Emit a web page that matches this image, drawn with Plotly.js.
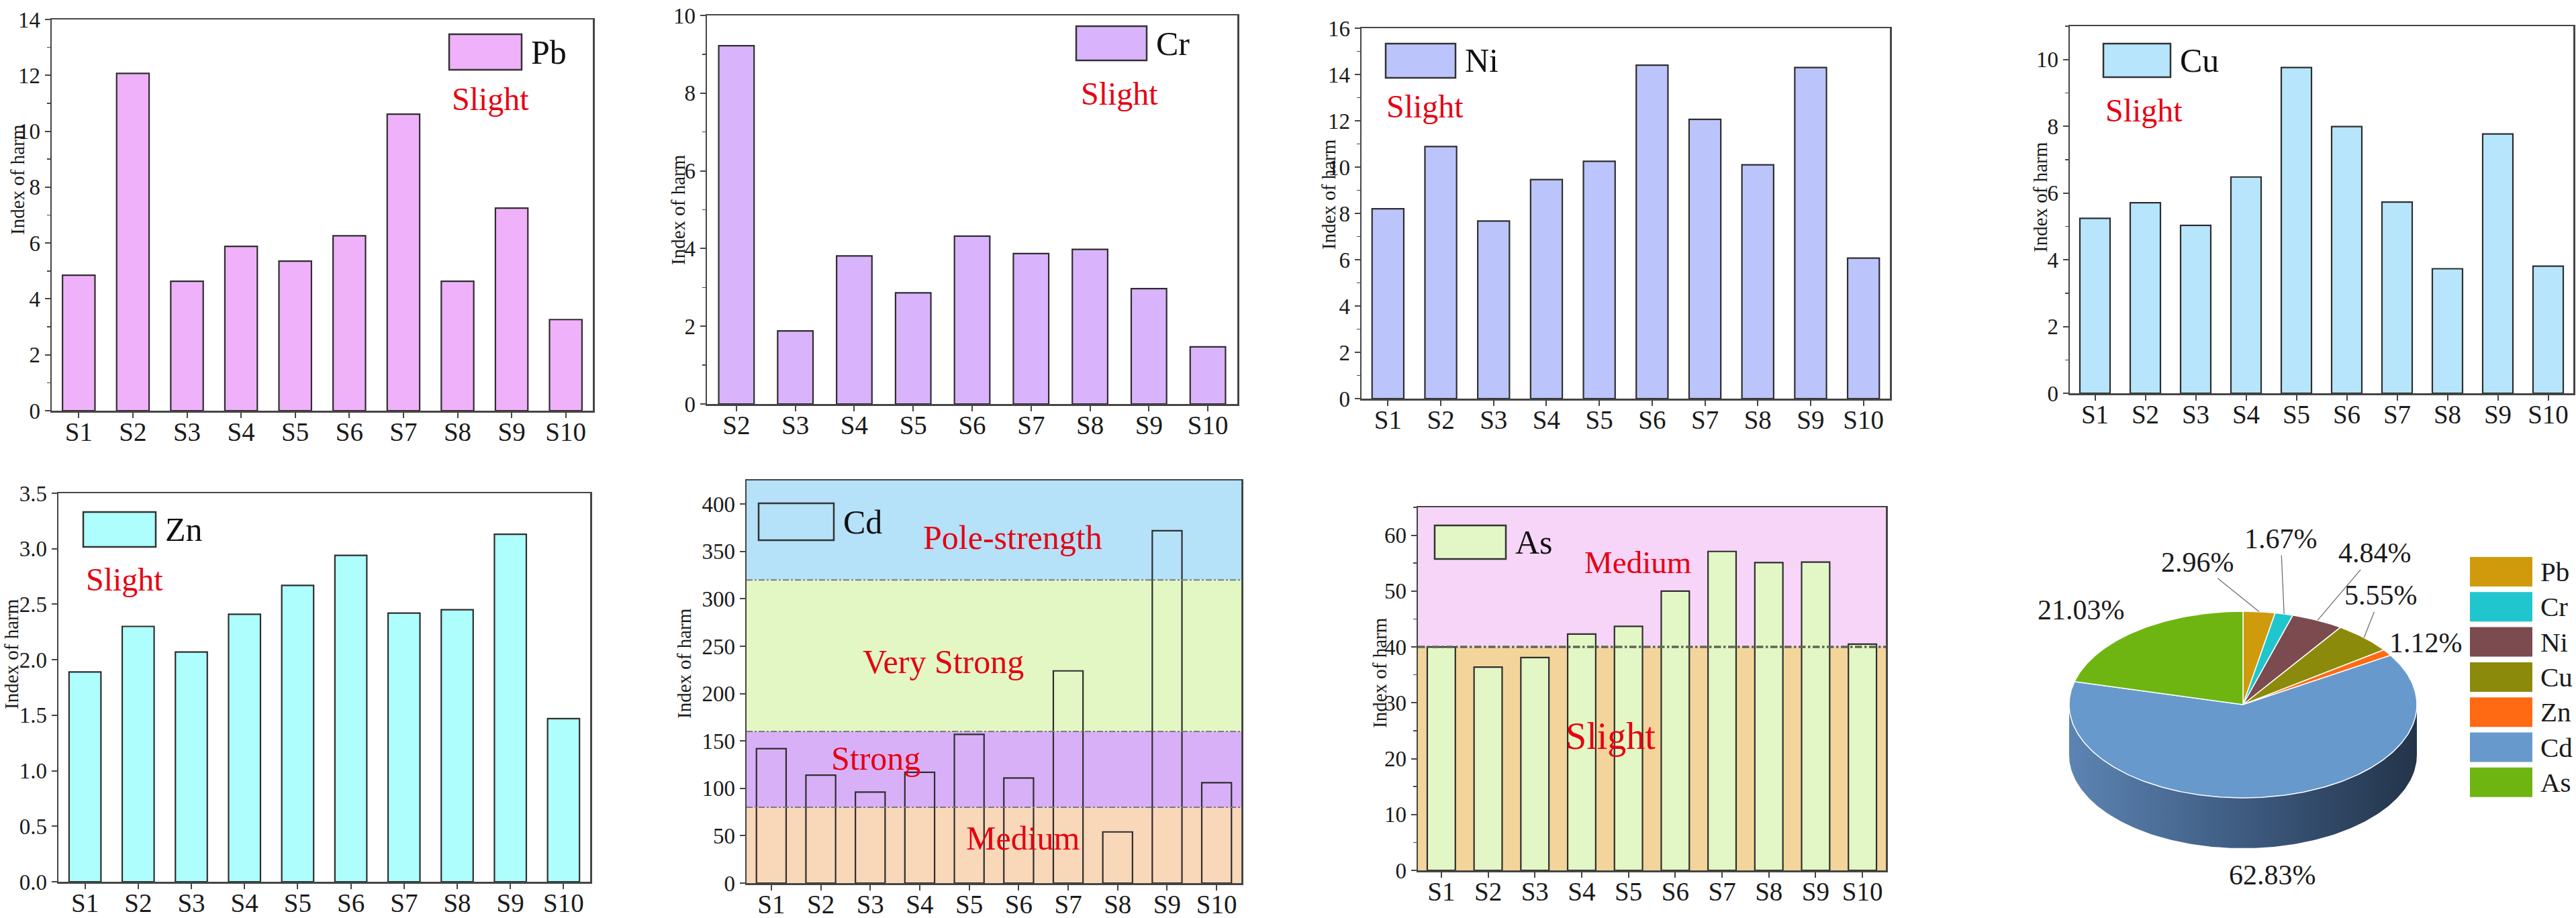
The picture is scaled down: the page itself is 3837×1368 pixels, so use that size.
<!DOCTYPE html>
<html>
<head>
<meta charset="utf-8">
<script src="https://cdn.plot.ly/plotly-3.0.1.min.js"></script>
<style>
  html, body { margin: 0; padding: 0; background: #fff; overflow: hidden; }
  #chart { width: 3837px; height: 1368px; }
</style>
</head>
<body>
<div id="chart"></div>
<script>
// ---- data ----
const sites = ['S1', 'S2', 'S3', 'S4', 'S5', 'S6', 'S7', 'S8', 'S9', 'S10'];
const crSites = ['S2', 'S3', 'S4', 'S5', 'S6', 'S7', 'S8', 'S9', 'S10'];

const pbIndex = [4.85, 12.07, 4.63, 5.88, 5.35, 6.26, 10.61, 4.63, 7.25, 3.26];
const crIndex = [9.22, 1.88, 3.81, 2.86, 4.32, 3.87, 3.98, 2.97, 1.47];
const niIndex = [8.20, 10.89, 7.67, 9.46, 10.25, 14.40, 12.06, 10.10, 14.30, 6.07];
const cuIndex = [5.24, 5.71, 5.03, 6.48, 9.76, 7.99, 5.73, 3.73, 7.77, 3.81];
const znIndex = [1.89, 2.30, 2.07, 2.41, 2.67, 2.94, 2.42, 2.45, 3.13, 1.47];
const cdIndex = [142, 114, 96, 117, 157, 111, 224, 54, 372, 106];
const asIndex = [40.0, 36.4, 38.1, 42.3, 43.7, 50.0, 57.1, 55.1, 55.2, 40.5];

const cdLevels = [0, 80, 160, 320, 425];
const cdLevelNames = ['Medium', 'Strong', 'Very Strong', 'Pole-strength'];
const asLevels = [0, 40, 65];
const asLevelNames = ['Slight', 'Medium'];

const pieLabels = ['Pb', 'Cr', 'Ni', 'Cu', 'Zn', 'Cd', 'As'];
const pieShares = [2.96, 1.67, 4.84, 5.55, 1.12, 62.83, 21.03];

// ---- page geometry and styles ----
const W = 3837, H = 1368;
const FONT = 'Liberation Serif, Times New Roman, serif';
const AXIS_COLOR = '#454545';
const RED = '#e60012';
const px = x => x / W;
const py = y => 1 - y / H;

const panels = [
  { el: 'Pb', cats: sites, vals: pbIndex, fill: '#efb1f9', box: [77, 29, 883, 612], yr: [0, 14], dtick: 2, minor: 1,
    key: [669, 51, 777, 104], ytitle: [26, 268], notes: [{ text: 'Slight', x: 730, y: 148, size: 48 }] },
  { el: 'Cr', cats: crSites, vals: crIndex, fill: '#d9b3fc', box: [1053, 23, 1843, 602], yr: [0, 10], dtick: 2, minor: 1,
    key: [1603, 39, 1708, 90], ytitle: [1010, 312], notes: [{ text: 'Slight', x: 1667, y: 139, size: 48 }] },
  { el: 'Ni', cats: sites, vals: niIndex, fill: '#bbc5fb', box: [2028, 42, 2815, 594], yr: [0, 16], dtick: 2, minor: 1,
    key: [2064, 65, 2168, 116], ytitle: [1979, 289], notes: [{ text: 'Slight', x: 2122, y: 159, size: 48 }] },
  { el: 'Cu', cats: sites, vals: cuIndex, fill: '#b7e6fc', box: [3083, 39, 3833, 586], yr: [0, 11], dtick: 2, minor: 1,
    key: [3133, 65, 3233, 115], ytitle: [3039, 294], notes: [{ text: 'Slight', x: 3193, y: 165, size: 48 }] },
  { el: 'Zn', cats: sites, vals: znIndex, fill: '#adfefd', box: [87, 735, 879, 1314], yr: [0, 3.5], dtick: 0.5, fmt: '.1f',
    key: [124, 763, 232, 815], ytitle: [17, 975], notes: [{ text: 'Slight', x: 185, y: 863, size: 48 }] },
  { el: 'Cd', cats: sites, vals: cdIndex, fill: 'rgba(0,0,0,0)', keyFill: 'rgba(0,0,0,0)', box: [1112, 716, 1849, 1316],
    yr: [0, 425], dtick: 50, key: [1130, 750, 1242, 805], ytitle: [1019, 988],
    bands: { levels: cdLevels, colors: ['#f9d7b9', '#d8b0f8', '#e3f7c4', '#b5e1f9'], line: '#7b7b7b', lw: 2 },
    notes: [
      { text: cdLevelNames[3], x: 1508, y: 801, size: 50 },
      { text: cdLevelNames[2], x: 1405, y: 986, size: 50 },
      { text: cdLevelNames[1], x: 1304, y: 1130, size: 50 },
      { text: cdLevelNames[0], x: 1524, y: 1249, size: 50 }
    ] },
  { el: 'As', cats: sites, vals: asIndex, fill: '#e2f7c5', box: [2112, 756, 2809, 1297], yr: [0, 65], dtick: 10, minor: 5,
    key: [2137, 783, 2243, 833], ytitle: [2055, 1003],
    bands: { levels: asLevels, colors: ['#f3d59c', '#f6d5f8'], line: '#5f6650', lw: 3.5 },
    notes: [
      { text: asLevelNames[1], x: 2439, y: 838, size: 47 },
      { text: asLevelNames[0], x: 2399, y: 1097, size: 56 }
    ] }
];

const pieColors = ['#cf9b0c', '#20c6cd', '#7b4b4f', '#8c8a0a', '#ff6a12', '#6799cc', '#6eb512'];
const PIE = { cx: 3341, cy: 1050, a: 259, b: 139, depth: 75 };
// label offsets from the slice edge (px, +down) and whether a leader line is drawn
const pieLabelPos = [[-92, -74, true], [-5, -112, true], [85, -100, true], [25, -63, true],
                     [58, -14, false], [4, 117, false], [-82, -31, false]];
const pieKey = { x0: 3679, x1: 3772, y0: 830, step: 52.3, h: 44, size: 41 };

// ---- build figure ----
const traces = [];
const shapes = [];
const annotations = [];
const layout = {
  width: W, height: H,
  margin: { l: 0, r: 0, t: 0, b: 0 },
  paper_bgcolor: '#ffffff',
  plot_bgcolor: 'rgba(0,0,0,0)',
  showlegend: false,
  bargap: 0.4,
  font: { family: FONT, color: '#1a1a1a' }
};

panels.forEach((p, i) => {
  const n = i + 1;
  const xa = 'x' + n, ya = 'y' + n;
  const [l, t, r, b] = p.box;

  traces.push({
    type: 'bar', x: p.cats, y: p.vals, xaxis: xa, yaxis: ya,
    marker: { color: p.fill, line: { color: '#2e2e2e', width: 2.2 } },
    hoverinfo: 'skip'
  });

  layout['xaxis' + n] = {
    domain: [px(l), px(r)], anchor: ya, type: 'category',
    range: [-0.5, p.cats.length - 0.5],
    showline: true, mirror: true, linecolor: AXIS_COLOR, linewidth: 2.5,
    ticks: 'outside', ticklen: 8, tickwidth: 2, tickcolor: AXIS_COLOR,
    ticklabelstandoff: -12,
    tickfont: { family: FONT, size: 39, color: '#1a1a1a' },
    showgrid: false, zeroline: false, fixedrange: true
  };
  const yaxis = {
    domain: [py(b), py(t)], anchor: xa,
    range: p.yr, dtick: p.dtick, tick0: 0,
    showline: true, mirror: true, linecolor: AXIS_COLOR, linewidth: 2.5,
    ticks: 'outside', ticklen: 8, tickwidth: 2, tickcolor: AXIS_COLOR,
    tickfont: { family: FONT, size: 33, color: '#1a1a1a' },
    showgrid: false, zeroline: false, fixedrange: true
  };
  if (p.fmt) yaxis.tickformat = p.fmt;
  if (p.minor) yaxis.minor = { dtick: p.minor, ticks: 'outside', ticklen: 5, tickwidth: 1.5, tickcolor: AXIS_COLOR, showgrid: false };
  layout['yaxis' + n] = yaxis;

  // hazard bands behind the bars
  if (p.bands) {
    const lv = p.bands.levels;
    for (let k = 0; k < lv.length - 1; k++) {
      shapes.push({
        type: 'rect', xref: xa + ' domain', yref: ya, x0: 0, x1: 1, y0: lv[k], y1: lv[k + 1],
        fillcolor: p.bands.colors[k], line: { width: 0 }, layer: 'below'
      });
    }
    for (let k = 1; k < lv.length - 1; k++) {
      shapes.push({
        type: 'line', xref: xa + ' domain', yref: ya, x0: 0, x1: 1, y0: lv[k], y1: lv[k],
        line: { color: p.bands.line, width: p.bands.lw, dash: 'dashdot' }, layer: 'above'
      });
    }
  }

  // legend key box + element name
  const [k0, k1, k2, k3] = p.key;
  shapes.push({
    type: 'rect', xref: 'paper', yref: 'paper',
    x0: px(k0), x1: px(k2), y0: py(k3), y1: py(k1),
    fillcolor: p.keyFill || p.fill, line: { color: '#333333', width: 2.5 }
  });
  annotations.push({
    text: p.el, xref: 'paper', yref: 'paper', x: px(k2 + 12), y: py((k1 + k3) / 2),
    xanchor: 'left', yanchor: 'middle', showarrow: false,
    font: { family: FONT, size: 50, color: '#111' }
  });

  // y title
  annotations.push({
    text: 'Index of harm', xref: 'paper', yref: 'paper', x: px(p.ytitle[0]), y: py(p.ytitle[1]),
    xanchor: 'center', yanchor: 'middle', textangle: -90, showarrow: false,
    font: { family: FONT, size: 29, color: '#1a1a1a' }
  });

  // red grade labels
  p.notes.forEach(nt => {
    annotations.push({
      text: nt.text, xref: 'paper', yref: 'paper', x: px(nt.x), y: py(nt.y),
      xanchor: 'center', yanchor: 'middle', showarrow: false,
      font: { family: FONT, size: nt.size, color: RED }
    });
  });
});

// ---- pseudo 3D pie on a hidden pixel-scaled axis ----
const pn = panels.length + 1;
const pxa = 'x' + pn, pya = 'y' + pn;
layout['xaxis' + pn] = { domain: [px(2877), 1], range: [2877, W], visible: false, fixedrange: true, anchor: pya };
layout['yaxis' + pn] = { domain: [0, py(684)], range: [H, 684], visible: false, fixedrange: true, anchor: pxa };

const rad = d => d * Math.PI / 180;
const rimPoint = th => [PIE.cx + PIE.a * Math.sin(th), PIE.cy - PIE.b * Math.cos(th)];

// front wall of the disc
{
  const xs = [], ys = [];
  for (let d = 90; d <= 270; d += 1) { const [x, y] = rimPoint(rad(d)); xs.push(x); ys.push(y); }
  for (let d = 270; d >= 90; d -= 1) { const [x, y] = rimPoint(rad(d)); xs.push(x); ys.push(y + PIE.depth); }
  traces.push({
    type: 'scatter', mode: 'lines', x: xs, y: ys, xaxis: pxa, yaxis: pya,
    fill: 'toself', line: { width: 0 },
    fillgradient: { type: 'horizontal', colorscale: [[0, '#5c84b3'], [0.55, '#3b577b'], [1, '#23344a']] },
    hoverinfo: 'skip'
  });
}

// top face slices
const total = pieShares.reduce((s, v) => s + v, 0);
let acc = 0;
pieShares.forEach((v, i) => {
  const a0 = acc / total * 360, a1 = (acc + v) / total * 360;
  acc += v;
  const xs = [PIE.cx], ys = [PIE.cy];
  const steps = Math.max(2, Math.ceil(a1 - a0));
  for (let s = 0; s <= steps; s++) {
    const [x, y] = rimPoint(rad(a0 + (a1 - a0) * s / steps));
    xs.push(x); ys.push(y);
  }
  xs.push(PIE.cx); ys.push(PIE.cy);
  traces.push({
    type: 'scatter', mode: 'lines', x: xs, y: ys, xaxis: pxa, yaxis: pya,
    fill: 'toself', fillcolor: pieColors[i], line: { color: '#ffffff', width: 1.5 },
    hoverinfo: 'skip'
  });

  // percentage label
  const [mx, my] = rimPoint(rad((a0 + a1) / 2));
  const [dx, dy, lead] = pieLabelPos[i];
  const ann = {
    text: v.toFixed(2) + '%', xref: pxa, yref: pya, x: mx, y: my,
    font: { family: FONT, size: 42, color: '#1a1a1a' }
  };
  if (lead) {
    Object.assign(ann, { showarrow: true, ax: dx, ay: dy, arrowhead: 0, arrowwidth: 1.3, arrowcolor: '#6f6f6f', standoff: 0, startstandoff: 0 });
  } else {
    Object.assign(ann, { showarrow: false, xshift: dx, yshift: -dy, xanchor: 'center', yanchor: 'middle' });
  }
  annotations.push(ann);
});

// pie key
pieLabels.forEach((lab, i) => {
  const top = pieKey.y0 + i * pieKey.step;
  shapes.push({
    type: 'rect', xref: 'paper', yref: 'paper',
    x0: px(pieKey.x0), x1: px(pieKey.x1), y0: py(top + pieKey.h), y1: py(top),
    fillcolor: pieColors[i], line: { width: 0 }
  });
  annotations.push({
    text: lab, xref: 'paper', yref: 'paper', x: px(pieKey.x1 + 10), y: py(top + pieKey.h / 2),
    xanchor: 'left', yanchor: 'middle', showarrow: false,
    font: { family: FONT, size: pieKey.size, color: '#1a1a1a' }
  });
});

layout.shapes = shapes;
layout.annotations = annotations;

Plotly.newPlot('chart', traces, layout, { displayModeBar: false, staticPlot: true });
</script>
</body>
</html>
